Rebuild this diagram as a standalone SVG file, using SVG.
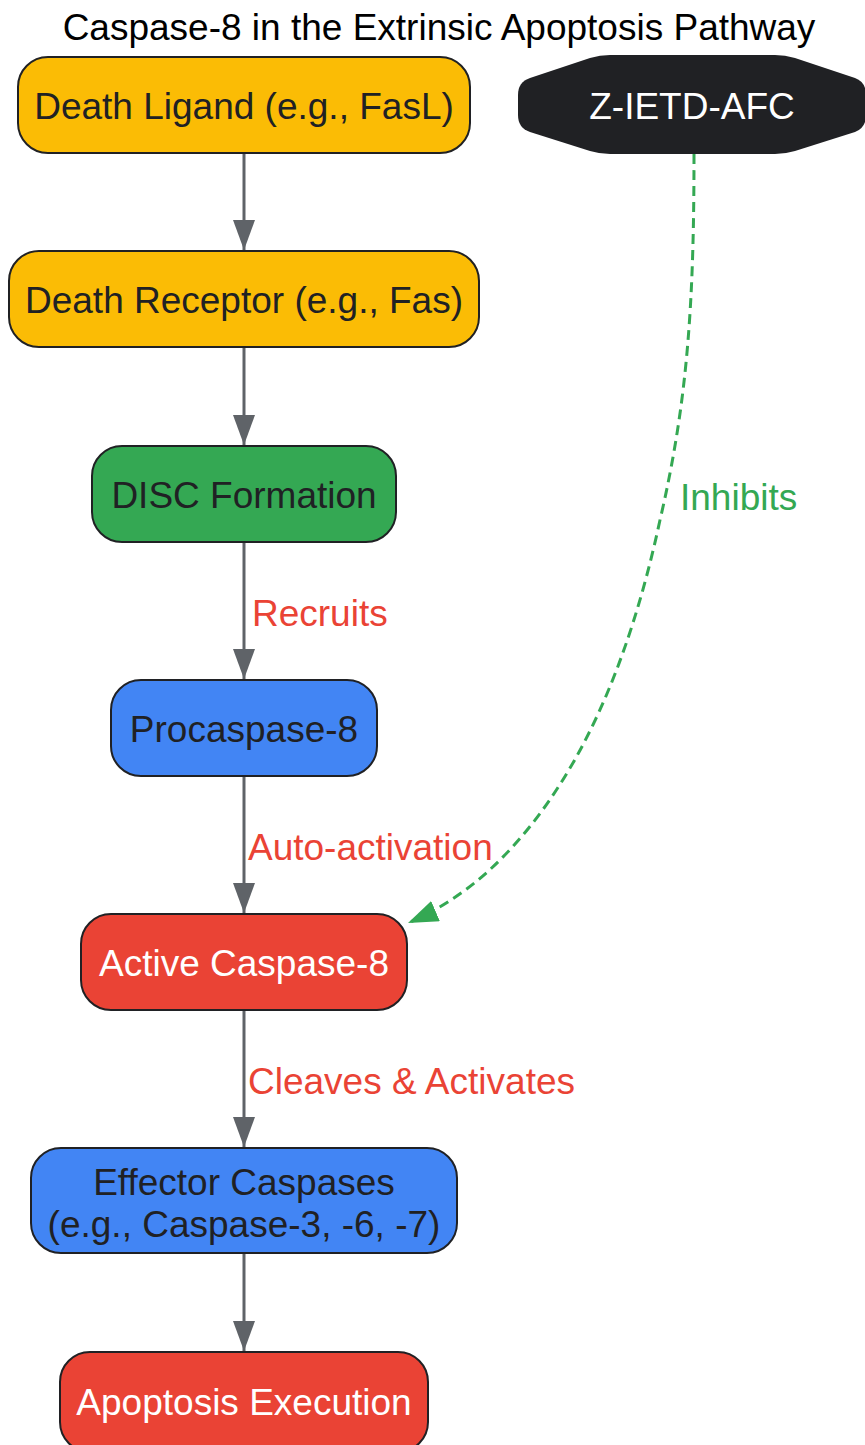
<svg xmlns="http://www.w3.org/2000/svg" width="865" height="1445" viewBox="0 0 865 1445">
<defs>
<style>
text{font-family:"Liberation Sans",Arial,sans-serif;}
.title{font-size:37px;fill:#000;text-anchor:middle;}
.node rect{stroke:#202124;stroke-width:2;}
.lbl{font-size:37px;text-anchor:middle;dominant-baseline:central;}
.dark{fill:#202124;}
.light{fill:#ffffff;}
.yellow{fill:#FBBC05;}
.green{fill:#34A853;}
.blue{fill:#4285F4;}
.red{fill:#EA4335;}
.edge{stroke:#5F6368;stroke-width:3;fill:none;}
.inh{stroke:#34A853;stroke-width:3;fill:none;stroke-dasharray:10,6;}
.elbl{font-size:37px;fill:#EA4335;}
.ilbl{font-size:37px;fill:#34A853;}
</style>
<marker id="ah" viewBox="0 0 30 22" markerWidth="30" markerHeight="22" refX="30" refY="11" orient="auto" markerUnits="userSpaceOnUse"><path d="M0,0 L30,11 L0,22 z" fill="#5F6368"/></marker>
<marker id="ahg" viewBox="0 0 30 22" markerWidth="30" markerHeight="22" refX="30" refY="11" orient="auto" markerUnits="userSpaceOnUse"><path d="M0,0 L30,11 L0,22 z" fill="#34A853"/></marker>
</defs>
<rect width="865" height="1445" fill="#ffffff"/>
<text class="title" x="439" y="40">Caspase-8 in the Extrinsic Apoptosis Pathway</text>

<g id="edges">
<path class="edge" d="M244,153 L244,250" marker-end="url(#ah)"/>
<path class="edge" d="M244,347 L244,445" marker-end="url(#ah)"/>
<path class="edge" d="M244,542 L244,679" marker-end="url(#ah)"/>
<path class="edge" d="M244,776 L244,913" marker-end="url(#ah)"/>
<path class="edge" d="M244,1010 L244,1147" marker-end="url(#ah)"/>
<path class="edge" d="M244,1253 L244,1351" marker-end="url(#ah)"/>
<path class="inh" d="M694,154 C694,300 688,400 660,520 C630,660 580,780 500,860 C475,885 445,907 408,923" marker-end="url(#ahg)"/>
<text class="elbl" x="252" y="626">Recruits</text>
<text class="elbl" x="248" y="860">Auto-activation</text>
<text class="elbl" x="248" y="1094">Cleaves &amp; Activates</text>
<text class="ilbl" x="680" y="510">Inhibits</text>
</g>

<g id="n-ligand" class="node"><rect class="yellow" x="18" y="57" width="452" height="96" rx="30"/><text class="lbl dark" x="244" y="106">Death Ligand (e.g., FasL)</text></g>
<g id="n-receptor" class="node"><rect class="yellow" x="9" y="251" width="470" height="96" rx="30"/><text class="lbl dark" x="244" y="300">Death Receptor (e.g., Fas)</text></g>
<g id="n-disc" class="node"><rect class="green" x="92" y="446" width="304" height="96" rx="30"/><text class="lbl dark" x="244" y="495">DISC Formation</text></g>
<g id="n-procasp" class="node"><rect class="blue" x="111" y="680" width="266" height="96" rx="30"/><text class="lbl dark" x="244" y="729">Procaspase-8</text></g>
<g id="n-active" class="node"><rect class="red" x="81" y="914" width="326" height="96" rx="30"/><text class="lbl light" x="244" y="963">Active Caspase-8</text></g>
<g id="n-effector" class="node"><rect class="blue" x="31" y="1148" width="426" height="105" rx="30"/><text class="lbl dark" x="244" y="1182">Effector Caspases</text><text class="lbl dark" x="244" y="1224">(e.g., Caspase-3, -6, -7)</text></g>
<g id="n-apoptosis" class="node"><rect class="red" x="60" y="1352" width="368" height="100" rx="30"/><text class="lbl light" x="244" y="1402">Apoptosis Execution</text></g>
<g id="n-inhibitor"><path d="M610,55 L775,55 Q785,55 795,58 L855,78 Q866,82 866,95 L866,115 Q866,128 855,132 L795,151 Q785,154 775,154 L610,154 Q600,154 590,151 L530,132 Q518,128 518,115 L518,95 Q518,82 530,78 L590,58 Q600,55 610,55 Z" fill="#202124"/><text class="lbl light" x="692" y="106">Z-IETD-AFC</text></g>
</svg>
